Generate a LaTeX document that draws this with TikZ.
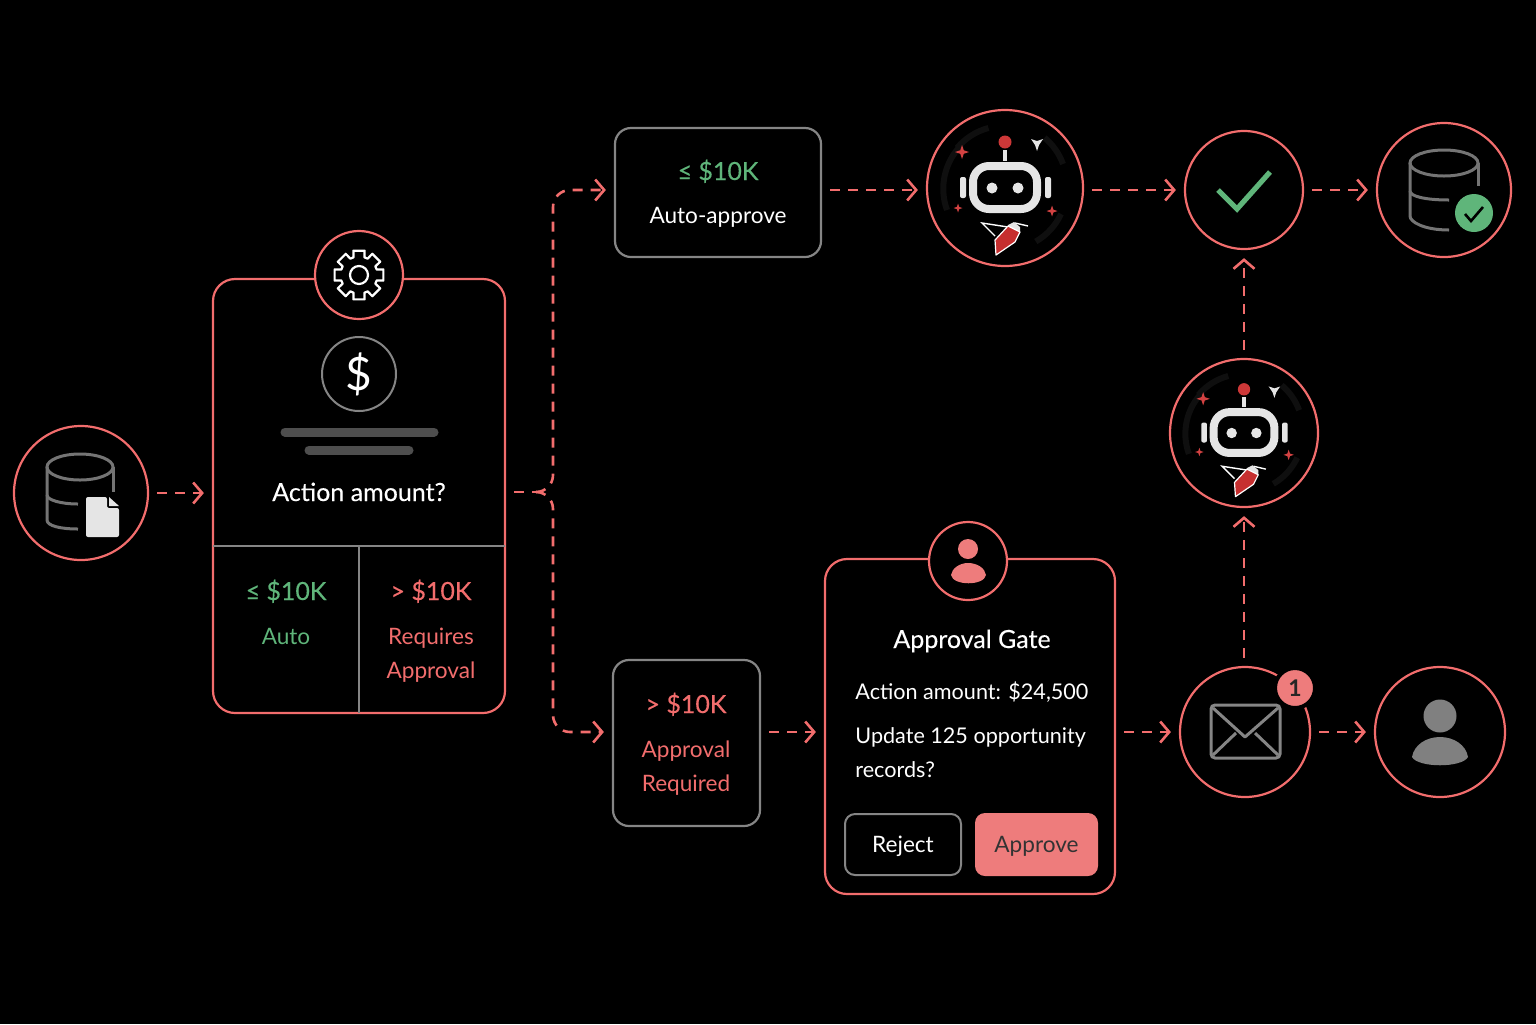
\documentclass[tikz,border=0pt]{standalone}
\usepackage{fontspec}
\setmainfont{Lato}
\newfontfamily\medfont[FakeBold=0.25]{Lato}
\usetikzlibrary{arrows.meta,positioning}
\definecolor{coral}{HTML}{F26D6D}
\definecolor{softcoral}{HTML}{EE7C7C}
\definecolor{mint}{HTML}{5FB57A}
\definecolor{edgegray}{HTML}{858585}
\definecolor{icongray}{HTML}{747474}
\definecolor{bargray}{HTML}{4E4E4E}
\definecolor{pengred}{HTML}{C62F2F}

% robot badge, drawn round the origin of a scope
\newcommand{\robotmark}[3]{%
  \begin{scope}[shift={(#1,#2)},scale=#3]
    \draw[faintarc] (-48,-40) arc[start angle=220,end angle=255,radius=62];
    \draw[faintarc] (-58,22) arc[start angle=160,end angle=225,radius=62];
    \draw[faintarc] (58,-24) arc[start angle=-20,end angle=-50,radius=62];
    \draw[faintarc] (56,26) arc[start angle=25,end angle=60,radius=62];
    \draw[white!90!black,line width=4pt,rounded corners=8pt] (-32,-22) rectangle (32,21);
    \fill[white!90!black] (-13,0) circle[radius=5.5] (13,0) circle[radius=5.5];
    \fill[white!90!black,rounded corners=1pt] (-45,-11) rectangle (-39,10) (40,-11) rectangle (46,10);
    \fill[white!90!black] (-1.8,-38) rectangle (1.8,-27);
    \fill[pengred!85!coral] (0,-46) circle[radius=6.5];
    \foreach \sx/\sy/\sr in {-43/-36/7,-47/20/4.5,47/23/5.5}
      \fill[pengred!70!coral] (\sx,\sy-\sr) -- (\sx+.25*\sr,\sy-.25*\sr) -- (\sx+\sr,\sy) -- (\sx+.25*\sr,\sy+.25*\sr)
        -- (\sx,\sy+\sr) -- (\sx-.25*\sr,\sy+.25*\sr) -- (\sx-\sr,\sy) -- (\sx-.25*\sr,\sy-.25*\sr) -- cycle;
    \fill[white!90!black] (26,-49) -- (32,-47) -- (38,-49) -- (34,-43) -- (32,-37) -- (30,-43) -- cycle;
    \draw[white,line width=.7pt] (-10,48) -- (-23,35) -- (3,39) (10,35) -- (23,38);
    \fill[white!90!black] (3,37) -- (9,34) -- (15,39) -- (15,44) -- (3,39) -- cycle;
    \draw[white,fill=pengred,line width=.6pt,line join=round] (-9,67) -- (-10,52) -- (3,38) -- (15,44) -- (10,54) -- cycle;
  \end{scope}}
% cylinder icon with a cut-away lower right
\newcommand{\cylmark}[6]{%
  \draw[cylline] (#1-#3,#2) -- (#1-#3,#2+53) .. controls (#1-#3,#2+59) and (#1-#3+14,#2+#5) .. (#1-#3+#4,#2+#5);
  \draw[cylline] (#1,#2) ellipse[x radius=#3,y radius=13];
  \draw[cylline] (#1+#3,#2) -- (#1+#3,#2+#6);
  \draw[cylline] (#1-#3,#2+28) .. controls (#1-#3,#2+33) and (#1-#3+14,#2+37) .. (#1-#3+#4,#2+37);}

\begin{document}
\begin{tikzpicture}[
    x=0.5pt, y=-0.5pt,
    ring/.style={circle, draw=coral, line width=1.1pt, fill=black, inner sep=0pt},
    card/.style={rectangle, draw=coral, line width=1.1pt, rounded corners=11pt, fill=black, inner sep=0pt},
    graybox/.style={rectangle, draw=edgegray, line width=1.1pt, rounded corners=8pt, fill=black, inner sep=0pt},
    lbl/.style={inner sep=0pt, text height=10pt, text depth=2pt, font=\fontsize{11.3}{14}\selectfont},
    gateline/.style={lbl, anchor=west, text=white, font=\fontsize{10.8}{14}\selectfont},
    big/.style={inner sep=0pt, text height=10pt, text depth=1pt, font=\medfont\fontsize{12.5}{15}\selectfont},
    flow/.style={draw=coral, line width=1.3pt, dash pattern=on 5pt off 4pt,
        shorten <=4pt, shorten >=4pt, -{Straight Barb[length=4.5pt,width=10.5pt,line width=1.3pt]}},
    cylline/.style={draw=icongray, line width=1.5pt},
    faintarc/.style={draw=white!6!black, line width=3pt}
]
\fill[black] (0,0) rectangle (1536,1024);
\useasboundingbox (0,0) rectangle (1536,1024);

% cards
\node (mainbox) [card, minimum width=146pt, minimum height=217pt] at (359,496) {};
\draw[edgegray, line width=1pt] (213,546) -- (505,546);
\draw[edgegray, line width=1pt] (359,546) -- (359,713);
\node (autobox) [graybox, minimum width=103pt, minimum height=64.5pt] at (718,192.5) {};
\node (overbox) [graybox, minimum width=73.5pt, minimum height=83pt] at (686.5,743) {};
\node (gatebox) [card, minimum width=145pt, minimum height=167.5pt] at (970,726.5) {};

% circles
\node (source) [ring, minimum size=67pt] at (81,493) {};
\node (gearring) [ring, minimum size=44pt] at (359,275) {};
\node (dollar) [circle, draw=edgegray, line width=1pt, minimum size=37pt, inner sep=0pt, text=white,
    font=\fontsize{23}{25}\selectfont] at (359,374) {\$};
\node (robotA) [ring, minimum size=78pt] at (1005,188) {};
\node (done) [ring, minimum size=59pt] at (1244,190) {};
\node (stored) [ring, minimum size=67pt] at (1444,190) {};
\node (robotB) [ring, minimum size=74pt] at (1244,433) {};
\node (mail) [ring, minimum size=65pt] at (1245,732) {};
\node (person) [ring, minimum size=65pt] at (1440,732) {};
\node (gateperson) [ring, minimum size=39pt] at (968,561) {};
\node (badge) [circle, fill=softcoral, draw=black, line width=2pt, minimum size=20pt, inner sep=0pt,
    font=\fontsize{11.5}{13}\selectfont\bfseries, text=black!85] at (1295,688) {1};

% main card content
\draw[white, line width=1.1pt, line join=round, shift={(359,275)}]
  (73:18.5) -- (77:25) -- (103:25) -- (107:18.5)
  \foreach \a in {45,90,...,315} { -- (\a+73:18.5) -- (\a+77:25) -- (\a+103:25) -- (\a+107:18.5) }
  -- cycle;
\draw[white, line width=1.1pt] (359,275) circle[radius=9];
\draw[bargray, line width=4.5pt, line cap=round] (285,432) -- (434,432) (309,450) -- (409,450);
\node (question) [big, text=white] at (359,492) {Action amount?};
\node (lowlimit) [big, text=mint] at (286,591) {≤ \$10K};
\node (lowtext) [lbl, text=mint] at (286,636) {Auto};
\node (highlimit) [big, text=coral] at (431,591) {> \$10K};
\node (hightextA) [lbl, text=coral] at (431,636) {Requires};
\node (hightextB) [lbl, text=coral] at (431,670) {Approval};

% branch boxes
\node (autolimit) [big, text=mint] at (718,171) {≤ \$10K};
\node (autotext) [lbl, text=white] at (718,215) {Auto-approve};
\node (overlimit) [big, text=coral] at (686,704) {> \$10K};
\node (overtextA) [lbl, text=coral] at (686,749) {Approval};
\node (overtextB) [lbl, text=coral] at (686,783) {Required};

% approval gate
\node (gatetitle) [big, text=white] at (972,639) {Approval Gate};
\node (gateamount) [gateline] at (855,691) {Action amount: \$24,500};
\node (gateupdate) [gateline] at (855,735) {Update 125 opportunity};
\node (gaterecords) [gateline] at (855,769) {records?};
\node (reject) [lbl, rectangle, draw=edgegray, line width=1pt, rounded corners=5pt, text=white, fill=black,
    minimum width=58pt, minimum height=30.5pt] at (903,844.5) {Reject};
\node (approve) [lbl, rectangle, fill=softcoral, rounded corners=5pt, text=black!80,
    minimum width=61.5pt, minimum height=31.5pt] at (1036.5,844.5) {Approve};

% icons
\cylmark{80}{467}{33}{31}{62}{25}
\fill[white!90!black, rounded corners=1pt] (86,497) -- (107,497) -- (107,508) -- (119,508) -- (119,537) -- (86,537) -- cycle;
\fill[white!90!black] (109,497) -- (119,506) -- (109,506) -- cycle;
\cylmark{1444}{163}{34}{39}{67}{23}
\fill[mint] (1474,213) circle[radius=19];
\draw[black, line width=1.3pt] (1465,214) -- (1471,221) -- (1483,207);
\draw[mint, line width=2.6pt] (1218,190) -- (1237,209) -- (1270,172);
\draw[edgegray, line width=1.5pt, rounded corners=2pt] (1211,705) rectangle (1280,758);
\draw[edgegray, line width=1.5pt, line join=round] (1213,708) -- (1245,737) -- (1278,708);
\draw[edgegray, line width=1.5pt] (1213,755) -- (1236,733) (1278,755) -- (1255,733);
\fill[gray] (1440,716) circle[radius=16.5];
\fill[gray] (1412,757) .. controls (1414,745) and (1426,737) .. (1440,737) .. controls (1454,737) and (1466,745) .. (1468,757)
  .. controls (1462,768) and (1418,768) .. (1412,757) -- cycle;
\fill[softcoral] (968,549) circle[radius=10];
\fill[softcoral] (951,575) .. controls (952,568) and (960,563) .. (968,563) .. controls (977,563) and (985,568) .. (986,575)
  .. controls (984,586) and (953,586) .. (951,575) -- cycle;
\robotmark{1005}{188}{1}
\robotmark{1244}{433}{0.95}

% connectors
\coordinate (split) at (536,492);
\draw[flow, -, shorten >=0pt] (mainbox.east |- split) -- (split);
\draw[flow, shorten <=0pt, rounded corners=8.5pt] (split) -- (553,492) |- (autobox.west |- done);
\draw[flow, shorten <=0pt, rounded corners=8.5pt] (split) -- (553,492) |- (overbox.west |- mail);
\draw[flow] (source.east) -- (source.east -| mainbox.west);
\draw[flow] (autobox.east |- done) -- (robotA.west |- done);
\draw[flow] (robotA.east |- done) -- (done.west);
\draw[flow] (done.east) -- (stored.west |- done);
\draw[flow] (robotB.north) -- (done.south);
\draw[flow] (mail.north -| robotB) -- (robotB.south);
\draw[flow] (overbox.east |- mail) -- (gatebox.west |- mail);
\draw[flow] (gatebox.east |- mail) -- (mail.west);
\draw[flow] (mail.east) -- (person.west);
\end{tikzpicture}
\end{document}
